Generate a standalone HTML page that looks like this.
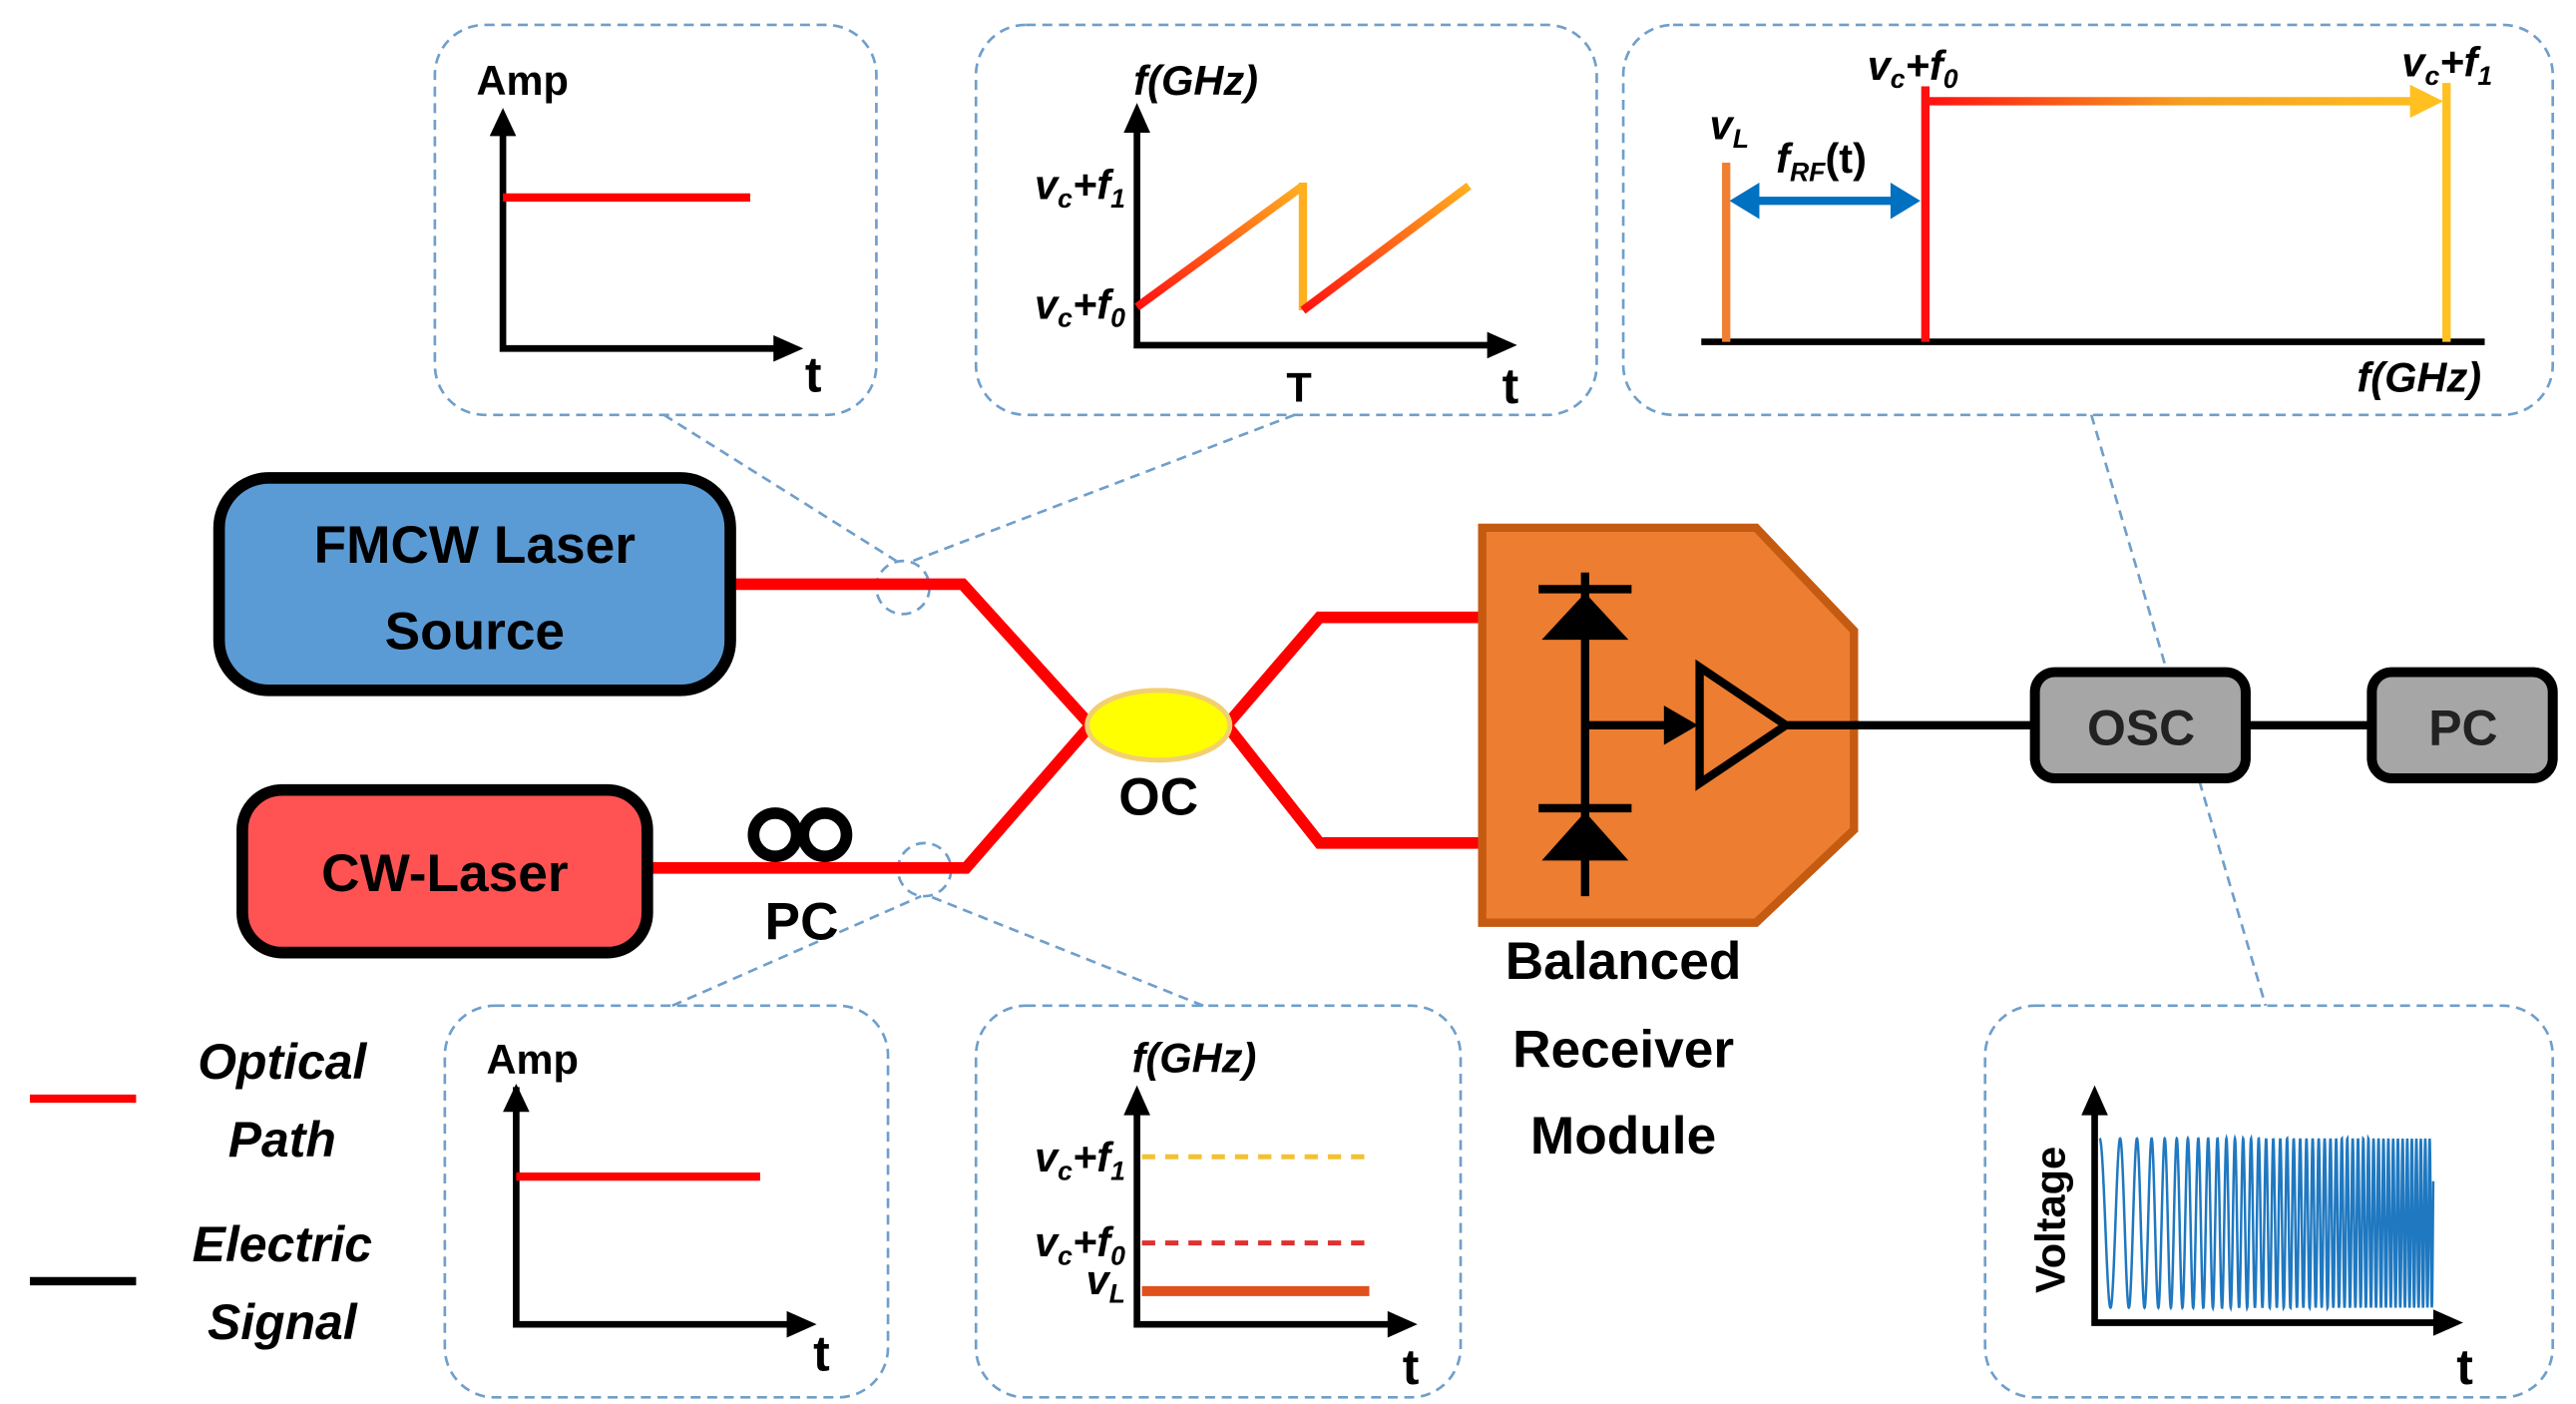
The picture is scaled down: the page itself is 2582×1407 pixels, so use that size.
<!DOCTYPE html>
<html><head><meta charset="utf-8"><style>
html,body{margin:0;padding:0;background:#fff;}
svg{display:block;}
text{font-family:"Liberation Sans",sans-serif;}
</style></head><body>
<svg id="s" width="2582" height="1407" viewBox="0 0 1552 846" preserveAspectRatio="none" xmlns="http://www.w3.org/2000/svg">
<defs>
<linearGradient id="g1" x1="0" y1="0" x2="1" y2="0"><stop offset="0" stop-color="#ff1010"/><stop offset="0.5" stop-color="#f08020"/><stop offset="1" stop-color="#ffc020"/></linearGradient>
<linearGradient id="g2" gradientUnits="userSpaceOnUse" x1="685" y1="185" x2="785" y2="112"><stop offset="0" stop-color="#ff1010"/><stop offset="1" stop-color="#ffb020"/></linearGradient>
<linearGradient id="g3" gradientUnits="userSpaceOnUse" x1="785" y1="187" x2="885" y2="112"><stop offset="0" stop-color="#ff1010"/><stop offset="1" stop-color="#ffb020"/></linearGradient>
<linearGradient id="g4" gradientUnits="userSpaceOnUse" x1="1160" y1="0" x2="1474" y2="0"><stop offset="0" stop-color="#ff1010"/><stop offset="0.5" stop-color="#f5a020"/><stop offset="1" stop-color="#ffc020"/></linearGradient>
<marker id="ah" markerWidth="6" markerHeight="6" refX="4" refY="3" orient="auto" markerUnits="strokeWidth"><path d="M0,0 L5,3 L0,6 Z" fill="#000"/></marker>
</defs>
<g fill="none" stroke="#6f9fcb" stroke-width="1.6" stroke-dasharray="6,4">
<rect x="262" y="15" width="266" height="235" rx="30"/>
<rect x="588" y="15" width="374" height="235" rx="30"/>
<rect x="978" y="15" width="560" height="235" rx="30"/>
<rect x="268" y="606" width="267" height="236" rx="30"/>
<rect x="588" y="606" width="292" height="236" rx="30"/>
<rect x="1196" y="606" width="342" height="236" rx="30"/>
<circle cx="544" cy="354" r="16"/><circle cx="557" cy="524" r="16"/>
<line x1="400" y1="250" x2="540" y2="338"/><line x1="780" y1="250" x2="550" y2="338"/>
<line x1="405" y1="606" x2="555" y2="540"/><line x1="725" y1="606" x2="560" y2="540"/>
<line x1="1260" y1="250" x2="1365" y2="606"/>
</g>
<!-- fibers -->
<g fill="none" stroke="#ff0000" stroke-width="7" stroke-linejoin="miter">
<polyline points="440,352 580,352 657,437"/>
<polyline points="390,523 582,523 657,437"/>
<polyline points="739,437 795,372 895,372"/>
<polyline points="739,437 795,508 895,508"/>
</g>
<ellipse cx="698" cy="437" rx="43" ry="21" fill="#ffff00" stroke="#f2d070" stroke-width="3"/>
<text x="698" y="491" font-size="32" font-weight="bold" text-anchor="middle">OC</text>
<circle cx="467" cy="503" r="13" fill="none" stroke="#000" stroke-width="7"/>
<circle cx="497" cy="503" r="13" fill="none" stroke="#000" stroke-width="7"/>
<text x="483" y="566" font-size="32" font-weight="bold" text-anchor="middle">PC</text>
<!-- lasers -->
<rect x="132" y="288" width="308" height="128" rx="30" fill="#5b9bd5" stroke="#000" stroke-width="7"/>
<text x="286" y="339" font-size="32" font-weight="bold" text-anchor="middle">FMCW Laser</text>
<text x="286" y="391" font-size="32" font-weight="bold" text-anchor="middle">Source</text>
<rect x="146" y="476" width="244" height="98" rx="24" fill="#ff5353" stroke="#000" stroke-width="7"/>
<text x="268" y="537" font-size="32" font-weight="bold" text-anchor="middle">CW-Laser</text>
<!-- receiver -->
<polygon points="893,318 1058,318 1117,380 1117,500 1058,556 893,556" fill="#ed7d31" stroke="#c55a11" stroke-width="5"/>
<g stroke="#000" stroke-width="5" fill="#000">
<line x1="955" y1="345" x2="955" y2="540"/>
<line x1="927" y1="355" x2="983" y2="355"/>
<polygon points="955,358 930,385 980,385" stroke-width="1"/>
<line x1="927" y1="487" x2="983" y2="487"/>
<polygon points="955,490 930,518 980,518" stroke-width="1"/>
<line x1="955" y1="437" x2="1005" y2="437"/>
<polygon points="1003,426 1022,437 1003,448" stroke-width="1"/>
<polygon points="1024,402 1024,472 1076,437" fill="none"/>
<line x1="1076" y1="437" x2="1120" y2="437"/>
<line x1="1117" y1="437" x2="1228" y2="437"/>
<line x1="1353" y1="437" x2="1428" y2="437"/>
</g>
<text x="978" y="590" font-size="32" font-weight="bold" text-anchor="middle">Balanced</text>
<text x="978" y="643" font-size="32" font-weight="bold" text-anchor="middle">Receiver</text>
<text x="978" y="695" font-size="32" font-weight="bold" text-anchor="middle">Module</text>
<rect x="1226" y="405" width="127" height="64" rx="12" fill="#a6a6a6" stroke="#000" stroke-width="6"/>
<text x="1290" y="449" font-size="30" font-weight="bold" text-anchor="middle" fill="#222">OSC</text>
<rect x="1429" y="405" width="109" height="64" rx="12" fill="#a6a6a6" stroke="#000" stroke-width="6"/>
<text x="1484" y="449" font-size="30" font-weight="bold" text-anchor="middle" fill="#222">PC</text>
<!-- legend -->
<line x1="18" y1="662" x2="82" y2="662" stroke="#ff0000" stroke-width="5"/>
<line x1="18" y1="772" x2="82" y2="772" stroke="#000" stroke-width="5"/>
<g font-size="30" font-weight="bold" font-style="italic" text-anchor="middle">
<text x="170" y="650">Optical</text><text x="170" y="697">Path</text>
<text x="170" y="760">Electric</text><text x="170" y="807">Signal</text>
</g>
<!-- box1 -->
<g stroke="#000" stroke-width="4" fill="none">
<polyline points="303,78 303,210 470,210"/>
<polyline points="311,655 311,798 478,798"/>
<polyline points="685,75 685,208 900,208"/>
<polyline points="685,668 685,798 840,798"/>
<polyline points="1262,668 1262,797 1470,797"/>
<line x1="1025" y1="206" x2="1497" y2="206"/>
</g>
<g fill="#000">
<polygon points="295,82 303,65 311,82"/><polygon points="466,202 484,210 466,218"/>
<polygon points="303,670 311,653 319,670"/><polygon points="474,790 492,798 474,806"/>
<polygon points="677,80 685,62 693,80"/><polygon points="896,200 914,208 896,216"/>
<polygon points="677,672 685,654 693,672"/><polygon points="836,790 854,798 836,806"/>
<polygon points="1254,672 1262,654 1270,672"/><polygon points="1466,789 1484,797 1466,805"/>
</g>
<line x1="303" y1="119" x2="452" y2="119" stroke="#ff0000" stroke-width="5"/>
<line x1="311" y1="709" x2="458" y2="709" stroke="#ff0000" stroke-width="5"/>
<g font-size="25" font-weight="bold">
<text x="287" y="57">Amp</text><text x="485" y="236" font-size="30">t</text>
<text x="293" y="647">Amp</text><text x="490" y="826" font-size="30">t</text>
<text x="905" y="243" font-size="30">t</text><text x="775" y="242">T</text>
<text x="845" y="834" font-size="30">t</text><text x="1480" y="834" font-size="30">t</text>
</g>
<g font-size="25" font-weight="bold" font-style="italic">
<text x="683" y="57">f(GHz)</text>
<text x="682" y="646">f(GHz)</text>
<text x="1420" y="236">f(GHz)</text>
<text x="678" y="120" text-anchor="end">v<tspan font-size="16" dy="5">c</tspan><tspan dy="-5">+f</tspan><tspan font-size="16" dy="5">1</tspan></text>
<text x="678" y="192" text-anchor="end">v<tspan font-size="16" dy="5">c</tspan><tspan dy="-5">+f</tspan><tspan font-size="16" dy="5">0</tspan></text>
<text x="678" y="706" text-anchor="end">v<tspan font-size="16" dy="5">c</tspan><tspan dy="-5">+f</tspan><tspan font-size="16" dy="5">1</tspan></text>
<text x="678" y="757" text-anchor="end">v<tspan font-size="16" dy="5">c</tspan><tspan dy="-5">+f</tspan><tspan font-size="16" dy="5">0</tspan></text>
<text x="678" y="780" text-anchor="end">v<tspan font-size="16" dy="5">L</tspan></text>
<text x="1125" y="48">v<tspan font-size="16" dy="5">c</tspan><tspan dy="-5">+f</tspan><tspan font-size="16" dy="5">0</tspan></text>
<text x="1447" y="46">v<tspan font-size="16" dy="5">c</tspan><tspan dy="-5">+f</tspan><tspan font-size="16" dy="5">1</tspan></text>
<text x="1030" y="84">v<tspan font-size="16" dy="5">L</tspan></text>
<text x="1070" y="104">f<tspan font-size="16" dy="5">RF</tspan><tspan dy="-5" font-style="normal">(t)</tspan></text>
</g>
<!-- sawtooth -->
<line x1="685" y1="185" x2="785" y2="112" stroke="url(#g2)" stroke-width="5"/>
<line x1="785" y1="110" x2="785" y2="187" stroke="#ffb020" stroke-width="5"/>
<line x1="785" y1="187" x2="885" y2="112" stroke="url(#g3)" stroke-width="5"/>
<!-- spectrum -->
<line x1="1040" y1="98" x2="1040" y2="206" stroke="#f08030" stroke-width="5"/>
<line x1="1160" y1="52" x2="1160" y2="206" stroke="#ff1010" stroke-width="5"/>
<line x1="1474" y1="50" x2="1474" y2="206" stroke="#ffc020" stroke-width="5"/>
<line x1="1160" y1="61" x2="1455" y2="61" stroke="url(#g4)" stroke-width="5"/>
<polygon points="1452,51 1472,61 1452,71" fill="#ffc020"/>
<line x1="1055" y1="121" x2="1143" y2="121" stroke="#0070c0" stroke-width="5"/>
<polygon points="1042,121 1060,110 1060,132" fill="#0070c0"/>
<polygon points="1157,121 1139,110 1139,132" fill="#0070c0"/>
<!-- box5 lines -->
<line x1="688" y1="697" x2="825" y2="697" stroke="#f5c030" stroke-width="3" stroke-dasharray="8,6"/>
<line x1="688" y1="749" x2="825" y2="749" stroke="#e03030" stroke-width="3" stroke-dasharray="8,6"/>
<line x1="688" y1="778" x2="825" y2="778" stroke="#e0501a" stroke-width="6"/>
<!-- voltage -->
<text transform="translate(1244,735) rotate(-90)" font-size="25" font-weight="bold" text-anchor="middle">Voltage</text>
<path id="chirp" fill="none" stroke="#1f78c0" stroke-width="1.5" d=""/>
</svg>
<script>
(function(){
var d="",x0=1265,x1=1466,yc=737,a=51,N=2000,L=x1-x0;
var f0=1/14,f1=1/2.6,k=(f1-f0)/L;
for(var i=0;i<=N;i++){var t=L*i/N;var ph=2*Math.PI*(f0*t+k*t*t/2);var y=yc-a*Math.cos(ph);d+=(i?"L":"M")+(x0+t).toFixed(2)+","+y.toFixed(2);}
document.getElementById("chirp").setAttribute("d",d);
})();
</script>
</body></html>
